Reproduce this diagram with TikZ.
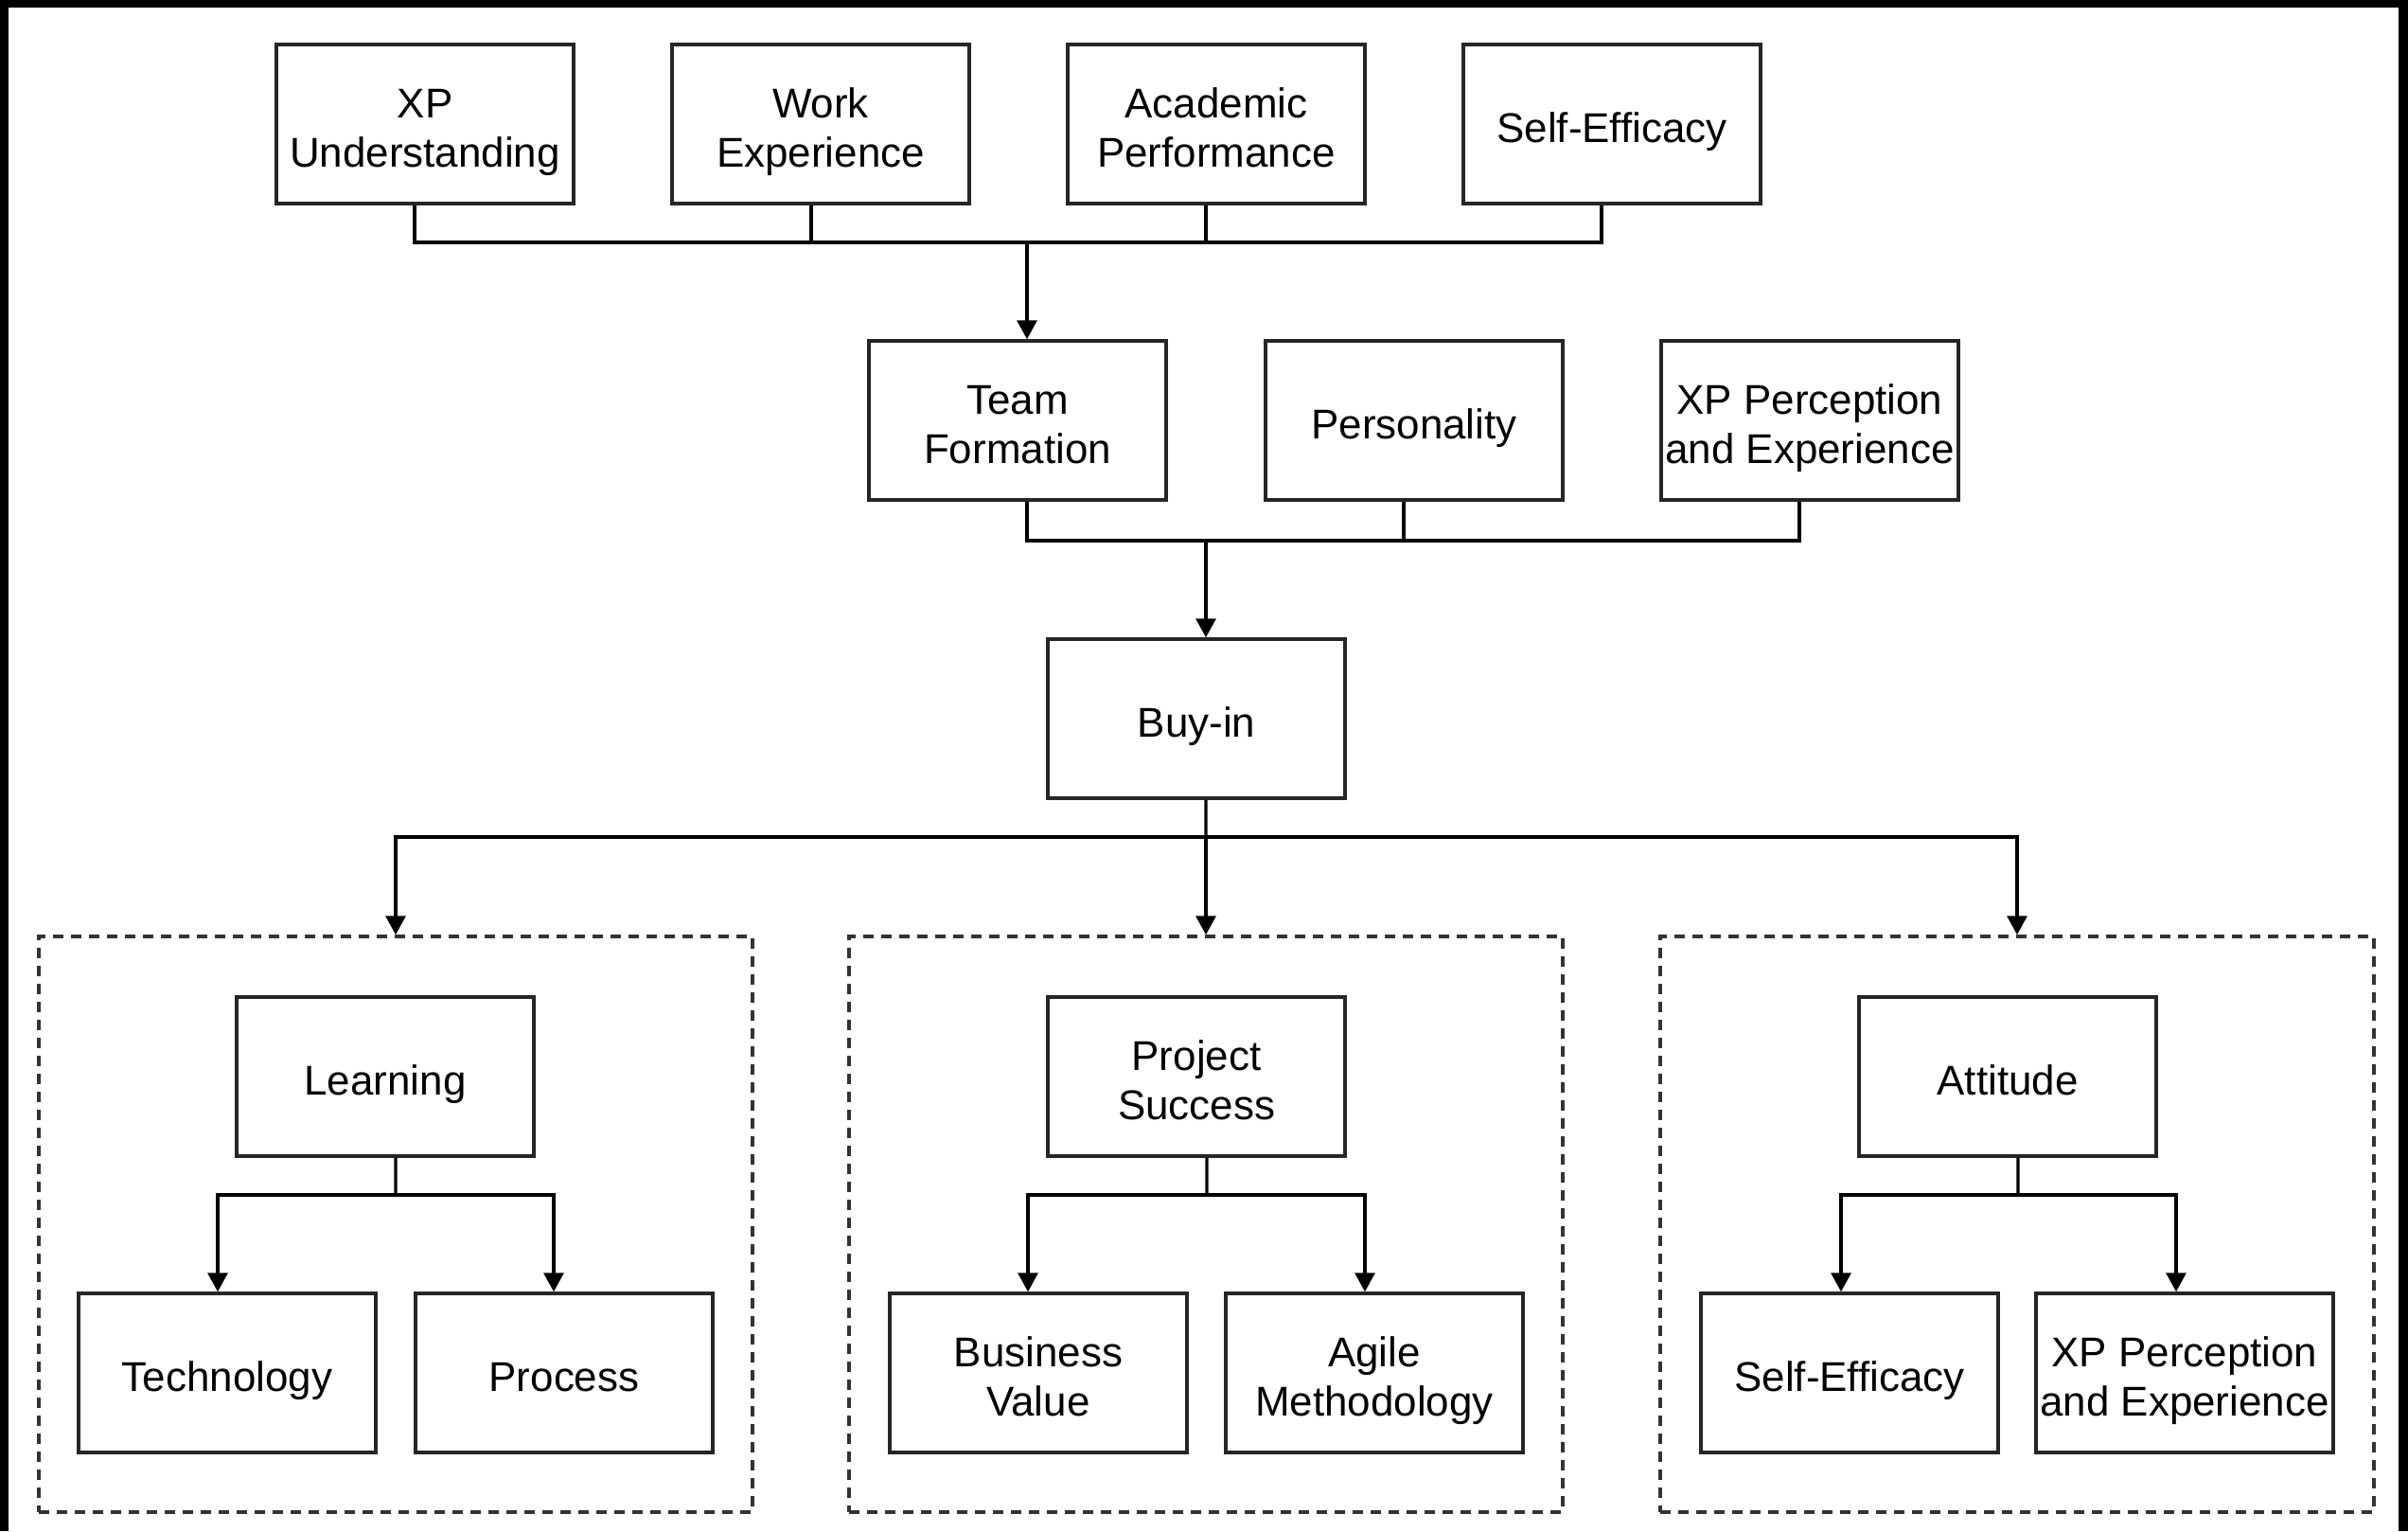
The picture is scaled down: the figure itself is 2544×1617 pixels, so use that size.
\documentclass[tikz,border=0pt]{standalone}
\usepackage{fontspec}
\setmainfont{Liberation Sans}
\usetikzlibrary{arrows.meta}
% fixed line metrics so every label sits at the same height in its box
\newcommand\toplinestrut{\rule{0pt}{13.9pt}}
\newcommand\botlinestrut{\rule[-2.8pt]{0pt}{2.8pt}}
\newcommand\oneline[1]{\toplinestrut#1\botlinestrut}
\newcommand\twoline[2]{\toplinestrut#1\\#2\botlinestrut}
\begin{document}
\begin{tikzpicture}[x=0.1mm,y=-0.1mm,
  box/.style={draw=black!85, line width=1pt, minimum width=31.4mm, minimum height=16.8mm,
    inner sep=0pt, align=center, font=\fontsize{12.5}{15}\selectfont},
  grp/.style={draw=black!80, line width=1pt, dash pattern=on 1.1mm off 0.8mm,
    minimum width=75.4mm, minimum height=60.8mm, inner sep=0pt},
  conn/.style={line width=0.9pt, draw=black},
  arr/.style={conn, -{Triangle[length=2mm,width=2.1mm]}}]

% frame
\fill[black] (0,0) rectangle (2544,1617);
\fill[white] (9,8) rectangle (2534,1617);
\useasboundingbox (0,0) rectangle (2544,1617);

% first row
\node[box] (xpu)  at (449,131)  {\twoline{XP}{Understanding}};
\node[box] (work) at (867,131)  {\twoline{Work}{Experience}};
\node[box] (acad) at (1285,131) {\twoline{Academic}{Performance}};
\node[box] (sef1) at (1703,131) {\oneline{Self-Efficacy}};

% second row
\node[box] (tf)   at (1075,444) {\twoline{Team}{Formation}};
\node[box] (pers) at (1494,444) {\oneline{Personality}};
\node[box] (xpp1) at (1912,444) {\twoline{XP Perception}{and Experience}};

% centre
\node[box] (buy)  at (1264,759) {\oneline{Buy-in}};

% outcome groups
\node[grp] (g1) at (418,1293)  {};
\node[grp] (g2) at (1274,1293) {};
\node[grp] (g3) at (2131,1293) {};

\node[box] (learn) at (407,1137)  {\oneline{Learning}};
\node[box] (proj)  at (1264,1137) {\twoline{Project}{Success}};
\node[box] (att)   at (2121,1137) {\oneline{Attitude}};

\node[box] (tech)  at (240,1450)  {\oneline{Technology}};
\node[box] (proc)  at (596,1450)  {\oneline{Process}};
\node[box] (bv)    at (1097,1450) {\twoline{Business}{Value}};
\node[box] (agile) at (1452,1450) {\twoline{Agile}{Methodology}};
\node[box] (sef2)  at (1954,1450) {\oneline{Self-Efficacy}};
\node[box] (xpp2)  at (2308,1450) {\twoline{XP Perception}{and Experience}};

% junction points
\coordinate (j1) at (1085,256);
\coordinate (j2) at (1274,571);
\coordinate (j3) at (1274,884);
\coordinate (jl) at (418,1262);
\coordinate (jp) at (1275,1262);
\coordinate (ja) at (2132,1262);

% first row to team formation
\draw[conn] ([xshift=-1.1mm]xpu.south) |- (j1) -| ([xshift=-1.1mm]sef1.south);
\draw[conn] ([xshift=-1mm]work.south) |- (j1);
\draw[conn] ([xshift=-1.1mm]acad.south) |- (j1);
\draw[arr] (j1) -- (j1 |- tf.north);

% second row to buy-in
\draw[conn] ([xshift=1mm]tf.south) |- (j2) -| ([xshift=-1.1mm]xpp1.south);
\draw[conn] ([xshift=-1.1mm]pers.south) |- (j2);
\draw[arr] (j2) -- (j2 |- buy.north);

% buy-in to the groups
\draw[conn] ([xshift=1mm]buy.south) -- (j3);
\draw[arr] (j3) -| (g1.north);
\draw[arr] (j3) -- (g2.north);
\draw[arr] (j3) -| (g3.north);

% inside the groups
\draw[conn] ([xshift=1.1mm]learn.south) -- (jl);
\draw[arr] (jl) -| ([xshift=-1mm]tech.north);
\draw[arr] (jl) -| ([xshift=-1.1mm]proc.north);

\draw[conn] ([xshift=1.1mm]proj.south) -- (jp);
\draw[arr] (jp) -| ([xshift=-1.1mm]bv.north);
\draw[arr] (jp) -| ([xshift=-1mm]agile.north);

\draw[conn] ([xshift=1.1mm]att.south) -- (ja);
\draw[arr] (ja) -| ([xshift=-0.9mm]sef2.north);
\draw[arr] (ja) -| ([xshift=-0.9mm]xpp2.north);
\end{tikzpicture}
\end{document}
